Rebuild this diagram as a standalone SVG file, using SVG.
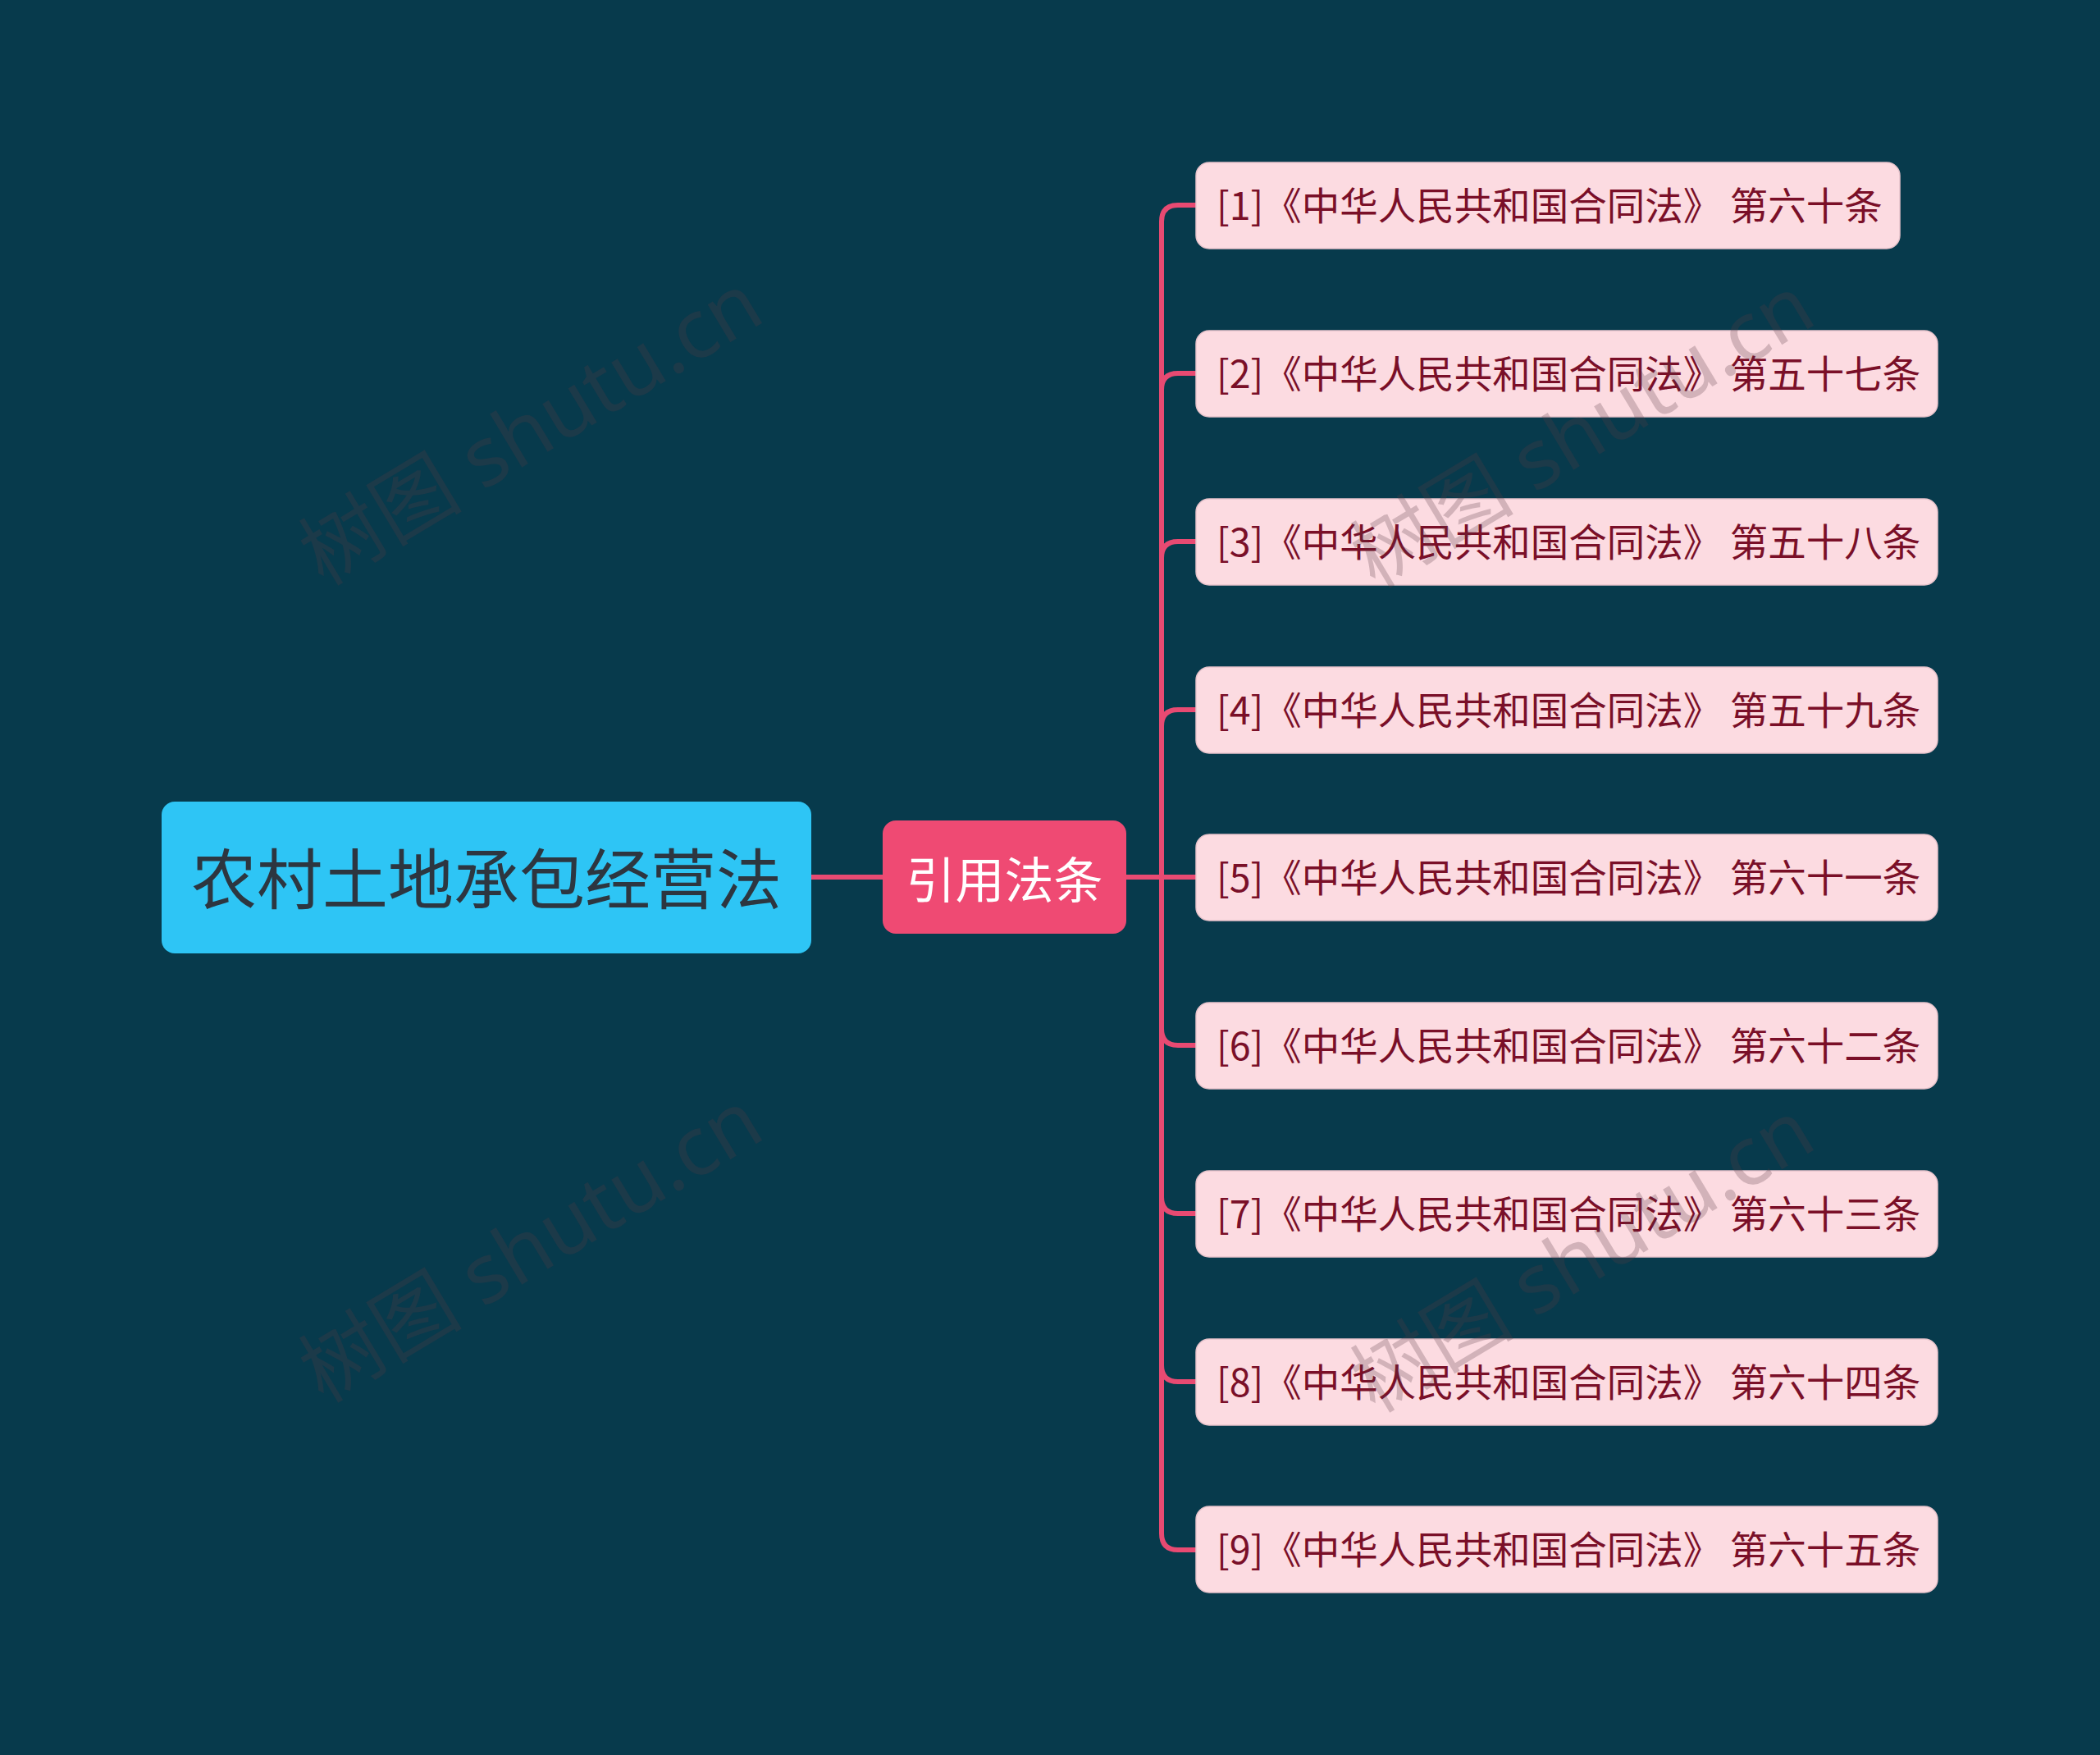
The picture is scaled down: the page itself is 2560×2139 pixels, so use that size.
<svg xmlns="http://www.w3.org/2000/svg" width="2560" height="2139" viewBox="0 0 2560 2139">
<style>
.wm{font-family:"Noto Sans","Noto Sans CJK SC",sans-serif;font-size:100px;fill:#5a3a44;opacity:0.25}
.conn{fill:none;stroke:#e84a72;stroke-width:6;stroke-linecap:round}
.leaf rect{fill:#fcdbe1;stroke:#e7c3cb;stroke-width:1.5}
.leaf text{font-family:"Noto Sans CJK SC","Noto Sans",sans-serif;font-size:46.5px;fill:#7a0f28;dominant-baseline:central}
</style>
<rect x="0" y="0" width="2560" height="2139" fill="#073a4c"/>
<g id="connectors">
<path class="conn" d="M989 1069 H1076"/>
<path class="conn" d="M1373 1069 H1458"/>
<path class="conn" d="M1416 1069 V270 Q1416 250 1436 250 H1458"/>
<path class="conn" d="M1416 1069 V475 Q1416 455 1436 455 H1458"/>
<path class="conn" d="M1416 1069 V680 Q1416 660 1436 660 H1458"/>
<path class="conn" d="M1416 1069 V885 Q1416 865 1436 865 H1458"/>
<path class="conn" d="M1416 1069 V1254 Q1416 1274 1436 1274 H1458"/>
<path class="conn" d="M1416 1069 V1459 Q1416 1479 1436 1479 H1458"/>
<path class="conn" d="M1416 1069 V1664 Q1416 1684 1436 1684 H1458"/>
<path class="conn" d="M1416 1069 V1869 Q1416 1889 1436 1889 H1458"/>
</g>
<g id="root">
<rect x="197" y="977" width="792" height="185" rx="16" fill="#2ec5f5"/>
<text x="593" y="1066" text-anchor="middle" dominant-baseline="central" font-family="Noto Sans CJK SC, Noto Sans, sans-serif" font-size="80" fill="#2d3640">农村土地承包经营法</text>
</g>
<g id="mid">
<rect x="1076" y="1000" width="297" height="138" rx="16" fill="#ef4a73"/>
<text x="1224.5" y="1068" text-anchor="middle" dominant-baseline="central" font-family="Noto Sans CJK SC, Noto Sans, sans-serif" font-size="60" fill="#ffffff">引用法条</text>
</g>
<g id="leaf1" class="leaf"><rect x="1458" y="198" width="858" height="105" rx="16"/><text x="1483" y="247">[1]《中华人民共和国合同法》 第六十条</text></g>
<g id="leaf2" class="leaf"><rect x="1458" y="403" width="904" height="105" rx="16"/><text x="1483" y="452">[2]《中华人民共和国合同法》 第五十七条</text></g>
<g id="leaf3" class="leaf"><rect x="1458" y="608" width="904" height="105" rx="16"/><text x="1483" y="657">[3]《中华人民共和国合同法》 第五十八条</text></g>
<g id="leaf4" class="leaf"><rect x="1458" y="813" width="904" height="105" rx="16"/><text x="1483" y="862">[4]《中华人民共和国合同法》 第五十九条</text></g>
<g id="leaf5" class="leaf"><rect x="1458" y="1017" width="904" height="105" rx="16"/><text x="1483" y="1066">[5]《中华人民共和国合同法》 第六十一条</text></g>
<g id="leaf6" class="leaf"><rect x="1458" y="1222" width="904" height="105" rx="16"/><text x="1483" y="1271">[6]《中华人民共和国合同法》 第六十二条</text></g>
<g id="leaf7" class="leaf"><rect x="1458" y="1427" width="904" height="105" rx="16"/><text x="1483" y="1476">[7]《中华人民共和国合同法》 第六十三条</text></g>
<g id="leaf8" class="leaf"><rect x="1458" y="1632" width="904" height="105" rx="16"/><text x="1483" y="1681">[8]《中华人民共和国合同法》 第六十四条</text></g>
<g id="leaf9" class="leaf"><rect x="1458" y="1836" width="904" height="105" rx="16"/><text x="1483" y="1885">[9]《中华人民共和国合同法》 第六十五条</text></g>
<g id="watermarks">
<text class="wm" x="645" y="519" text-anchor="middle" dominant-baseline="central" transform="rotate(-31 645 519)">树图 shutu.cn</text>
<text class="wm" x="645" y="1515" text-anchor="middle" dominant-baseline="central" transform="rotate(-31 645 1515)">树图 shutu.cn</text>
<text class="wm" x="1927" y="522" text-anchor="middle" dominant-baseline="central" transform="rotate(-31 1927 522)">树图 shutu.cn</text>
<text class="wm" x="1927" y="1527" text-anchor="middle" dominant-baseline="central" transform="rotate(-31 1927 1527)">树图 shutu.cn</text>
</g>
</svg>
